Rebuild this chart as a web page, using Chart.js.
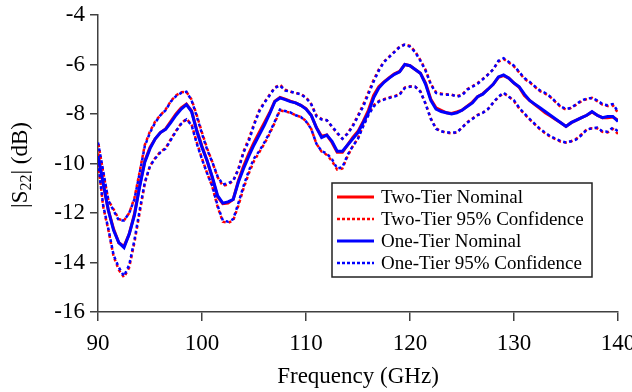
<!DOCTYPE html>
<html>
<head>
<meta charset="utf-8">
<script src="https://cdn.jsdelivr.net/npm/chart.js@4.4.1/dist/chart.umd.min.js"></script>
<style>
  body { margin: 0; background: #fff; }
</style>
</head>
<body>
<canvas id="myChart" width="632" height="392"></canvas>
<script>
// frequency grid in GHz
var freq = [90,90.5,91,91.5,92,92.5,93,93.5,94,94.5,95,95.5,96,96.5,97,97.5,98,98.5,99,99.5,
  100,100.5,101,101.5,102,102.5,103,103.5,104,104.5,105,105.5,106,106.5,107,107.5,108,108.5,109,109.5,
  110,110.5,111,111.5,112,112.5,113,113.5,114,114.5,115,115.5,116,116.5,117,117.5,118,118.5,119,119.5,
  120,120.5,121,121.5,122,122.5,123,123.5,124,124.5,125,125.5,126,126.5,127,127.5,128,128.5,129,129.5,
  130,130.5,131,131.5,132,132.5,133,133.5,134,134.5,135,135.5,136,136.5,137,137.5,138,138.5,139,139.5,140];

// One-Tier (blue)
var oneNominal = [-9.7,-10.8,-11.9,-12.7,-13.2,-13.4,-12.85,-12.1,-10.95,-9.95,
  -9.4,-9.0,-8.75,-8.62,-8.35,-8.05,-7.8,-7.62,-7.9,-8.7,
  -9.35,-9.9,-10.55,-11.3,-11.6,-11.55,-11.45,-10.75,-10.2,-9.7,
  -9.25,-8.85,-8.45,-8.0,-7.5,-7.35,-7.42,-7.5,-7.55,-7.65,
  -7.8,-8.05,-8.55,-8.95,-8.85,-9.1,-9.5,-9.5,-9.25,-9.0,
  -8.75,-8.35,-7.95,-7.35,-6.95,-6.72,-6.55,-6.4,-6.3,-6.0,
  -6.05,-6.2,-6.35,-6.8,-7.45,-7.8,-7.9,-7.95,-8.0,-7.95,
  -7.85,-7.7,-7.55,-7.3,-7.2,-7.0,-6.8,-6.5,-6.42,-6.55,
  -6.75,-6.9,-7.2,-7.45,-7.6,-7.75,-7.9,-8.05,-8.2,-8.35,
  -8.5,-8.35,-8.25,-8.15,-8.05,-7.9,-8.05,-8.15,-8.1,-8.1,-8.3];
var oneUpper = [-9.15,-10.3,-11.5,-11.9,-12.3,-12.3,-12.0,-11.45,-10.4,-9.3,
  -8.75,-8.35,-8.05,-7.85,-7.5,-7.28,-7.15,-7.1,-7.45,-8.1,
  -8.8,-9.45,-9.95,-10.52,-10.85,-10.8,-10.7,-10.25,-9.55,-9.1,
  -8.45,-7.9,-7.55,-7.25,-6.95,-6.85,-7.05,-7.1,-7.15,-7.2,
  -7.35,-7.6,-8.1,-8.22,-8.25,-8.5,-8.75,-9.0,-8.8,-8.5,
  -8.1,-7.7,-7.2,-6.7,-6.25,-5.9,-5.7,-5.5,-5.3,-5.2,
  -5.28,-5.5,-5.85,-6.25,-6.8,-7.15,-7.2,-7.22,-7.22,-7.3,
  -7.25,-7.02,-6.9,-6.78,-6.6,-6.41,-6.2,-5.85,-5.75,-5.9,
  -6.05,-6.3,-6.55,-6.7,-6.88,-7.05,-7.15,-7.3,-7.5,-7.7,
  -7.8,-7.75,-7.6,-7.45,-7.38,-7.35,-7.45,-7.6,-7.65,-7.6,-7.9];
var oneLower = [-9.95,-11.7,-12.65,-13.7,-14.2,-14.55,-14.1,-13.1,-11.9,-10.76,
  -10.1,-9.8,-9.55,-9.4,-9.05,-8.7,-8.4,-8.22,-8.45,-9.2,
  -9.83,-10.4,-10.92,-11.7,-12.3,-12.35,-12.25,-11.6,-10.9,-10.3,
  -9.8,-9.5,-9.15,-8.75,-8.3,-7.82,-7.88,-7.94,-8.05,-8.12,
  -8.3,-8.6,-9.2,-9.5,-9.6,-9.83,-10.2,-10.15,-9.65,-9.3,
  -9.0,-8.5,-8.05,-7.7,-7.5,-7.42,-7.35,-7.3,-7.22,-6.95,
  -6.9,-6.9,-7.1,-7.6,-8.2,-8.6,-8.7,-8.75,-8.75,-8.75,
  -8.55,-8.35,-8.2,-8.05,-7.95,-7.8,-7.54,-7.3,-7.14,-7.3,
  -7.45,-7.75,-7.98,-8.2,-8.4,-8.6,-8.75,-8.9,-9.0,-9.1,
  -9.15,-9.1,-9.03,-8.85,-8.63,-8.58,-8.55,-8.7,-8.72,-8.55,-8.7];

// Two-Tier (red)
var twoNominal = [-9.6,-10.85,-11.9,-12.65,-13.2,-13.35,-12.85,-12.05,-10.9,-9.9,
  -9.35,-9.0,-8.75,-8.6,-8.3,-8.0,-7.75,-7.6,-7.88,-8.65,
  -9.3,-9.9,-10.6,-11.35,-11.62,-11.6,-11.45,-10.7,-10.1,-9.6,
  -9.15,-8.75,-8.35,-7.95,-7.48,-7.33,-7.4,-7.48,-7.55,-7.65,
  -7.78,-8.05,-8.55,-8.9,-8.85,-9.15,-9.55,-9.55,-9.25,-8.95,
  -8.7,-8.3,-7.85,-7.25,-6.9,-6.7,-6.53,-6.38,-6.28,-6.0,
  -6.05,-6.2,-6.35,-6.75,-7.4,-7.75,-7.85,-7.95,-7.98,-7.92,
  -7.85,-7.68,-7.52,-7.3,-7.18,-7.0,-6.8,-6.52,-6.45,-6.55,
  -6.75,-6.92,-7.25,-7.45,-7.62,-7.78,-7.95,-8.08,-8.22,-8.35,
  -8.5,-8.35,-8.25,-8.15,-8.05,-7.92,-8.05,-8.15,-8.15,-8.12,-8.25];
var twoUpper = [-9.1,-10.35,-11.5,-11.85,-12.25,-12.3,-12.0,-11.4,-10.35,-9.25,
  -8.7,-8.3,-8.05,-7.82,-7.48,-7.25,-7.12,-7.1,-7.42,-8.05,
  -8.75,-9.4,-9.95,-10.55,-10.9,-10.85,-10.7,-10.2,-9.5,-9.0,
  -8.4,-7.85,-7.52,-7.22,-6.92,-6.82,-7.02,-7.1,-7.15,-7.2,
  -7.32,-7.6,-8.05,-8.2,-8.25,-8.52,-8.78,-9.0,-8.78,-8.45,
  -8.05,-7.62,-7.12,-6.62,-6.2,-5.88,-5.68,-5.48,-5.28,-5.18,
  -5.25,-5.48,-5.82,-6.22,-6.78,-7.12,-7.18,-7.2,-7.22,-7.28,
  -7.22,-7.0,-6.88,-6.75,-6.58,-6.4,-6.2,-5.88,-5.78,-5.92,
  -6.08,-6.32,-6.58,-6.72,-6.9,-7.08,-7.18,-7.32,-7.52,-7.72,
  -7.82,-7.75,-7.62,-7.48,-7.4,-7.35,-7.48,-7.62,-7.68,-7.65,-7.95];
var twoLower = [-9.9,-11.75,-12.7,-13.75,-14.3,-14.6,-14.2,-13.2,-12.0,-10.8,
  -10.1,-9.78,-9.52,-9.38,-9.02,-8.68,-8.38,-8.2,-8.42,-9.15,
  -9.8,-10.4,-10.95,-11.75,-12.35,-12.4,-12.3,-11.7,-11.0,-10.4,
  -9.9,-9.55,-9.2,-8.8,-8.35,-7.85,-7.9,-7.95,-8.05,-8.12,
  -8.28,-8.6,-9.2,-9.52,-9.65,-9.9,-10.25,-10.2,-9.7,-9.3,
  -8.98,-8.45,-8.0,-7.65,-7.48,-7.4,-7.33,-7.28,-7.2,-6.93,
  -6.88,-6.9,-7.08,-7.58,-8.18,-8.58,-8.7,-8.75,-8.78,-8.75,
  -8.55,-8.33,-8.18,-8.03,-7.95,-7.8,-7.55,-7.32,-7.16,-7.3,
  -7.48,-7.78,-8.0,-8.22,-8.42,-8.62,-8.78,-8.92,-9.02,-9.12,
  -9.15,-9.1,-9.0,-8.82,-8.62,-8.58,-8.58,-8.72,-8.75,-8.6,-8.8];

var legendLabels = ["Two-Tier Nominal", "Two-Tier 95% Confidence", "One-Tier Nominal", "One-Tier 95% Confidence"];
var legendColors = ["#ff0000", "#ff0000", "#0000ff", "#0000ff"];
var legendDotted = [false, true, false, true];

function pts(vals) {
  return vals.map(function (v, i) { return { x: freq[i], y: v }; });
}

var serif = "'Liberation Serif', 'Times New Roman', serif";

// y axis title with a subscript, drawn by hand
var axisTitleY = {
  id: "axisTitleY",
  afterDraw: function (chart) {
    var c = chart.ctx;
    c.save();
    c.translate(21, 165);
    c.rotate(-Math.PI / 2);
    c.fillStyle = "#000";
    c.textBaseline = "middle";
    var a = "|S", b = "22", d = "| (dB)";
    c.font = "23px " + serif;
    var wa = c.measureText(a).width;
    var wd = c.measureText(d).width;
    c.font = "16px " + serif;
    var wb = c.measureText(b).width;
    var x0 = -(wa + wb + wd) / 2;
    c.font = "23px " + serif;
    c.fillText(a, x0, 0);
    c.font = "16px " + serif;
    c.fillText(b, x0 + wa, 6);
    c.font = "23px " + serif;
    c.fillText(d, x0 + wa + wb, 0);
    c.restore();
  }
};

// boxed legend inside the plot
var boxLegend = {
  id: "boxLegend",
  afterDraw: function (chart) {
    var c = chart.ctx;
    c.save();
    c.fillStyle = "#fff";
    c.fillRect(332, 183, 260, 94);
    c.strokeStyle = "#222";
    c.lineWidth = 1.5;
    c.strokeRect(332, 183, 260, 94);
    c.font = "19px " + serif;
    c.textBaseline = "middle";
    legendLabels.forEach(function (lbl, i) {
      var y = 197 + i * 22;
      c.beginPath();
      c.strokeStyle = legendColors[i];
      c.lineWidth = legendDotted[i] ? 2.5 : 3;
      c.setLineDash(legendDotted[i] ? [3, 2] : []);
      c.moveTo(337, y);
      c.lineTo(374, y);
      c.stroke();
      c.setLineDash([]);
      c.fillStyle = "#000";
      c.fillText(lbl, 381, y + 1);
    });
    c.restore();
  }
};

var ctx = document.getElementById("myChart");

var myChart = new Chart(ctx, {
  type: "line",
  data: {
    datasets: [
      { data: pts(oneNominal), borderColor: "#0000ff", borderWidth: 3, order: 0 },
      { data: pts(oneUpper), borderColor: "#0000ff", borderWidth: 2.5, borderDash: [3, 3], order: 1 },
      { data: pts(oneLower), borderColor: "#0000ff", borderWidth: 2.5, borderDash: [3, 3], order: 1 },
      { data: pts(twoNominal), borderColor: "#ff0000", borderWidth: 3, order: 2 },
      { data: pts(twoUpper), borderColor: "#ff0000", borderWidth: 2.5, borderDash: [3, 3], borderDashOffset: 3, order: 3 },
      { data: pts(twoLower), borderColor: "#ff0000", borderWidth: 2.5, borderDash: [3, 3], borderDashOffset: 3, order: 3 }
    ]
  },
  options: {
    responsive: false,
    animation: false,
    devicePixelRatio: 1,
    elements: { point: { radius: 0 }, line: { tension: 0, fill: false } },
    layout: { padding: { top: 15, right: 14, left: 0, bottom: 0 } },
    plugins: { legend: { display: false }, tooltip: { enabled: false } },
    scales: {
      x: {
        type: "linear",
        min: 90,
        max: 140,
        ticks: { stepSize: 10, color: "#000", padding: 9, font: { family: serif, size: 23 } },
        grid: { drawOnChartArea: false, drawTicks: true, tickLength: 9, color: "#404040", lineWidth: 1.5 },
        border: { color: "#404040", width: 1.5 },
        title: { display: true, text: "Frequency (GHz)", color: "#000", padding: { top: 0, bottom: 1 }, font: { family: serif, size: 23 } },
        afterFit: function (scale) {
          scale.height = 80;
          scale.paddingLeft = 0;
          scale.paddingRight = 0;
        }
      },
      y: {
        min: -16,
        max: -4,
        ticks: { stepSize: 2, color: "#000", padding: 5, font: { family: serif, size: 23 } },
        grid: { drawOnChartArea: false, drawTicks: true, tickLength: 8, color: "#404040", lineWidth: 1.5 },
        border: { color: "#404040", width: 1.5 },
        afterFit: function (scale) {
          scale.width = 98;
          scale.paddingTop = 0;
          scale.paddingBottom = 0;
        }
      }
    }
  },
  plugins: [axisTitleY, boxLegend]
});
</script>
</body>
</html>
